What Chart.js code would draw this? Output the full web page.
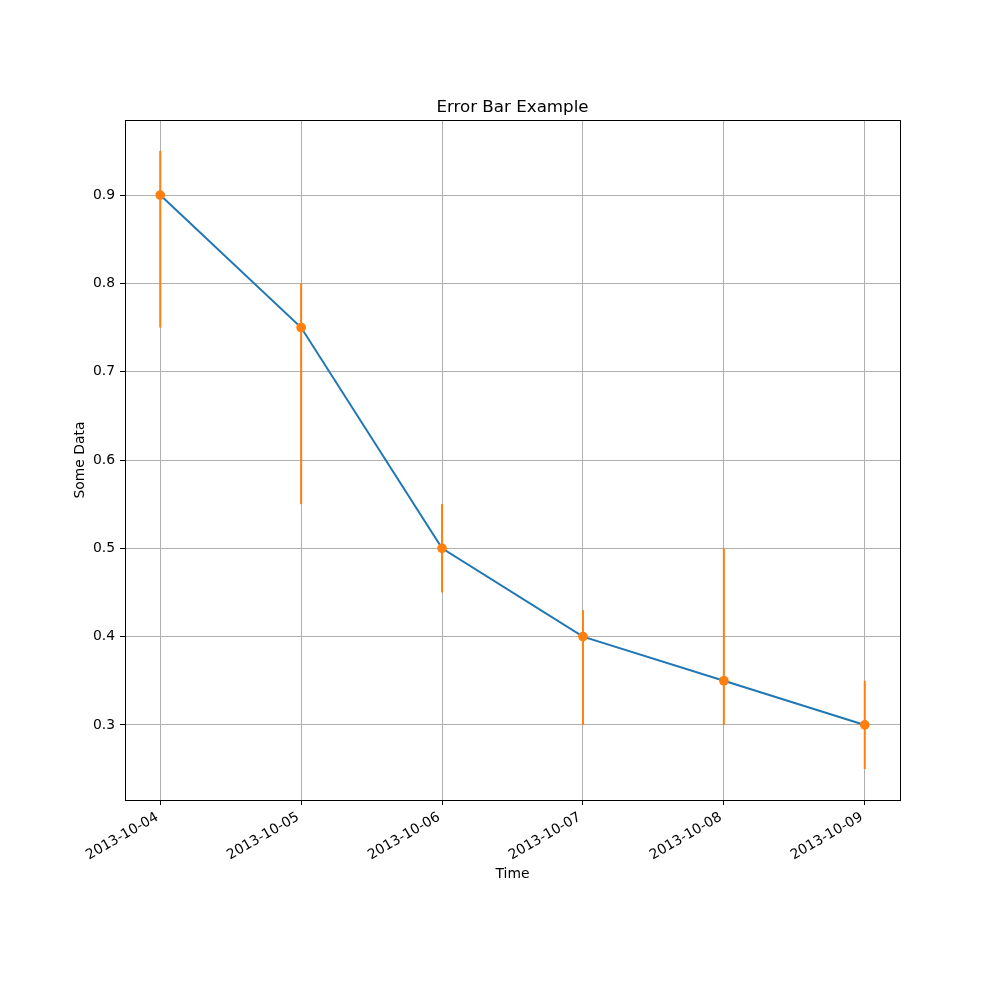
<!DOCTYPE html>
<html>
<head>
<meta charset="utf-8">
<script src="https://cdn.jsdelivr.net/npm/chart.js@4/dist/chart.umd.min.js"></script>
<style>
  html, body { margin: 0; padding: 0; background: #ffffff; }
  #wrap { width: 1000px; height: 1000px; }
</style>
</head>
<body>
<div id="wrap"><canvas id="c" width="1000" height="1000"></canvas></div>
<script>
// ---- data ----
const dates = ["2013-10-04", "2013-10-05", "2013-10-06", "2013-10-07", "2013-10-08", "2013-10-09"];
const values = [0.9, 0.75, 0.5, 0.4, 0.35, 0.3];
const errLower = [0.75, 0.55, 0.45, 0.30, 0.30, 0.25];
const errUpper = [0.95, 0.80, 0.55, 0.43, 0.50, 0.35];
const yTicks = [0.3, 0.4, 0.5, 0.6, 0.7, 0.8, 0.9];
const chartTitle = "Error Bar Example";
const xTitle = "Time";
const yTitle = "Some Data";

const BLUE = "#1f77b4";
const ORANGE = "#ff7f0e";
const FONT = "'DejaVu Sans', sans-serif";

const points = values.map((v, i) => ({ x: i, y: v }));

const errorBarPlugin = {
  id: "errorBars",
  beforeDatasetDraw(chart, args) {
    if (args.index !== 1) return;
    const ctx = chart.ctx;
    const xs = chart.scales.x, ys = chart.scales.y;
    ctx.save();
    ctx.strokeStyle = ORANGE;
    ctx.lineWidth = 2;
    ctx.lineCap = "butt";
    for (let i = 0; i < values.length; i++) {
      const px = xs.getPixelForValue(i);
      ctx.beginPath();
      ctx.moveTo(px, ys.getPixelForValue(errLower[i]));
      ctx.lineTo(px, ys.getPixelForValue(errUpper[i]));
      ctx.stroke();
    }
    ctx.restore();
  }
};

const framePlugin = {
  id: "frame",
  afterDraw(chart) {
    const a = chart.chartArea;
    const ctx = chart.ctx;
    ctx.save();
    ctx.strokeStyle = "#000000";
    ctx.lineWidth = 1;
    ctx.strokeRect(Math.round(a.left) + 0.5, Math.round(a.top) + 0.5,
                   Math.round(a.right - a.left), Math.round(a.bottom - a.top));
    // title centred over the plot area
    ctx.fillStyle = "#000000";
    ctx.font = "16.7px " + FONT;
    ctx.textAlign = "center";
    ctx.textBaseline = "alphabetic";
    ctx.fillText(chartTitle, (a.left + a.right) / 2, a.top - 8);
    ctx.restore();
  }
};

new Chart(document.getElementById("c"), {
  type: "scatter",
  data: {
    datasets: [
      {
        label: "line",
        data: points,
        showLine: true,
        borderColor: BLUE,
        backgroundColor: BLUE,
        borderWidth: 2,
        pointRadius: 0,
        order: 2
      },
      {
        label: "errorbar",
        data: points,
        showLine: false,
        borderColor: ORANGE,
        backgroundColor: ORANGE,
        pointRadius: 4.85,
        pointBorderWidth: 0,
        order: 1
      }
    ]
  },
  options: {
    responsive: false,
    devicePixelRatio: 1,
    animation: false,
    layout: { padding: { left: 0, right: 100, top: 120, bottom: 0 } },
    plugins: {
      legend: { display: false },
      tooltip: { enabled: false },
      title: { display: false }
    },
    scales: {
      x: {
        type: "linear",
        min: -0.25,
        max: 5.25,
        afterBuildTicks(scale) { scale.ticks = dates.map((d, i) => ({ value: i })); },
        afterFit(scale) { scale.height = 200; },
        ticks: {
          callback: (v) => dates[Math.round(v)],
          minRotation: 30,
          maxRotation: 30,
          autoSkip: false,
          color: "#000000",
          padding: 4,
          labelOffset: -3,
          font: { family: FONT, size: 13.9 }
        },
        grid: { color: "#b0b0b0", lineWidth: 1, tickLength: 5, tickColor: "#000000", drawOnChartArea: true },
        border: { display: true, color: "#000000", width: 1 },
        title: {
          display: true,
          text: xTitle,
          color: "#000000",
          font: { family: FONT, size: 13.9 },
          padding: { top: 0, bottom: 117 }
        }
      },
      y: {
        type: "linear",
        min: 0.215,
        max: 0.985,
        afterBuildTicks(scale) { scale.ticks = yTicks.map(v => ({ value: v })); },
        afterFit(scale) { scale.width = 125; },
        ticks: {
          callback: (v) => Number(v).toFixed(1),
          color: "#000000",
          padding: 5,
          font: { family: FONT, size: 13.9 }
        },
        grid: { color: "#b0b0b0", lineWidth: 1, tickLength: 5, tickColor: "#000000", drawOnChartArea: true },
        border: { display: true, color: "#000000", width: 1 },
        title: {
          display: true,
          text: yTitle,
          color: "#000000",
          font: { family: FONT, size: 13.9 },
          padding: { top: 72, bottom: 0 }
        }
      }
    }
  },
  plugins: [errorBarPlugin, framePlugin]
});
</script>
</body>
</html>
